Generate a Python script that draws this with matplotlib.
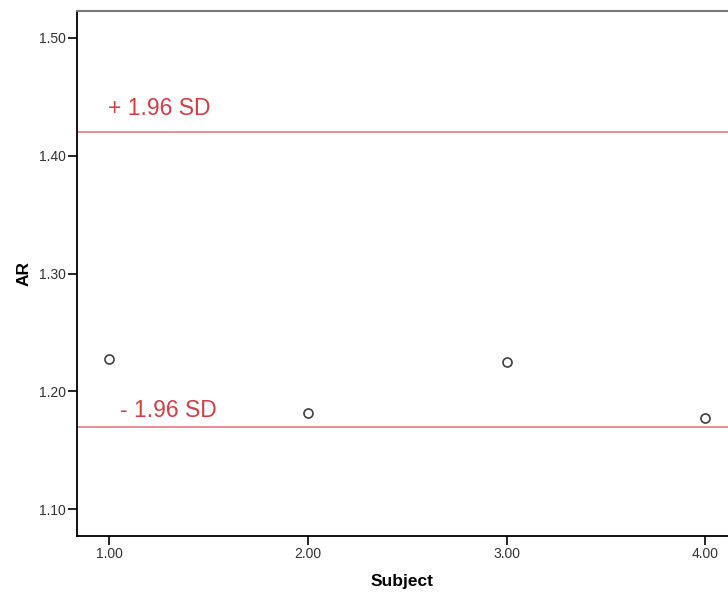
import matplotlib
matplotlib.use("Agg")
import matplotlib.pyplot as plt

plt.rcParams['font.family'] = ['Liberation Sans', 'DejaVu Sans']

# Agreement data
subjects = [1.0, 2.0, 3.0, 4.0]
ar_values = [1.2275, 1.1814, 1.2247, 1.1777]
upper_limit = 1.4203
lower_limit = 1.1695
x_ticks = [1.0, 2.0, 3.0, 4.0]
y_ticks = [1.10, 1.20, 1.30, 1.40, 1.50]

fig = plt.figure(figsize=(7.28, 5.94), dpi=100)
ax = fig.add_axes([76.7 / 728, (594 - 536) / 594, 1 - 76.7 / 728, (536 - 11) / 594])

ax.set_xlim(0.836, 4.114)
ax.set_ylim(1.0774, 1.5226)

ax.axhline(upper_limit, color='#e8868e', lw=1.3, zorder=1)
ax.axhline(lower_limit, color='#e8868e', lw=1.3, zorder=1)

ax.plot(subjects, ar_values, linestyle='none', marker='o', markersize=6.5,
        markerfacecolor='white', markeredgecolor='#404040', markeredgewidth=1.2, zorder=3)

ax.text(0.995, upper_limit + 0.0140, '+ 1.96 SD', color='#d83c44', fontsize=16.5,
        ha='left', va='baseline')
ax.text(1.055, lower_limit + 0.0085, '- 1.96 SD', color='#d83c44', fontsize=16.5,
        ha='left', va='baseline')

ax.set_xticks(x_ticks)
ax.set_xticklabels([f'{v:.2f}' for v in x_ticks])
ax.set_yticks(y_ticks)
ax.set_yticklabels([f'{v:.2f}' for v in y_ticks])
ax.tick_params(direction='out', length=6.5, width=1.2, labelsize=10, colors='black',
               pad=1.5)
ax.tick_params(axis='y', labelcolor='#333333')
ax.tick_params(axis='x', labelcolor='#333333')

ax.spines['right'].set_visible(False)
ax.spines['top'].set_color('#777777')
ax.spines['top'].set_linewidth(1.5)
ax.spines['left'].set_linewidth(1.3)
ax.spines['bottom'].set_linewidth(1.3)

ax.set_xlabel('Subject', fontsize=12.5, fontweight='bold', labelpad=9)
ax.set_ylabel('AR', fontsize=12.5, fontweight='bold', labelpad=5)

fig.savefig('out.png', dpi=100)
